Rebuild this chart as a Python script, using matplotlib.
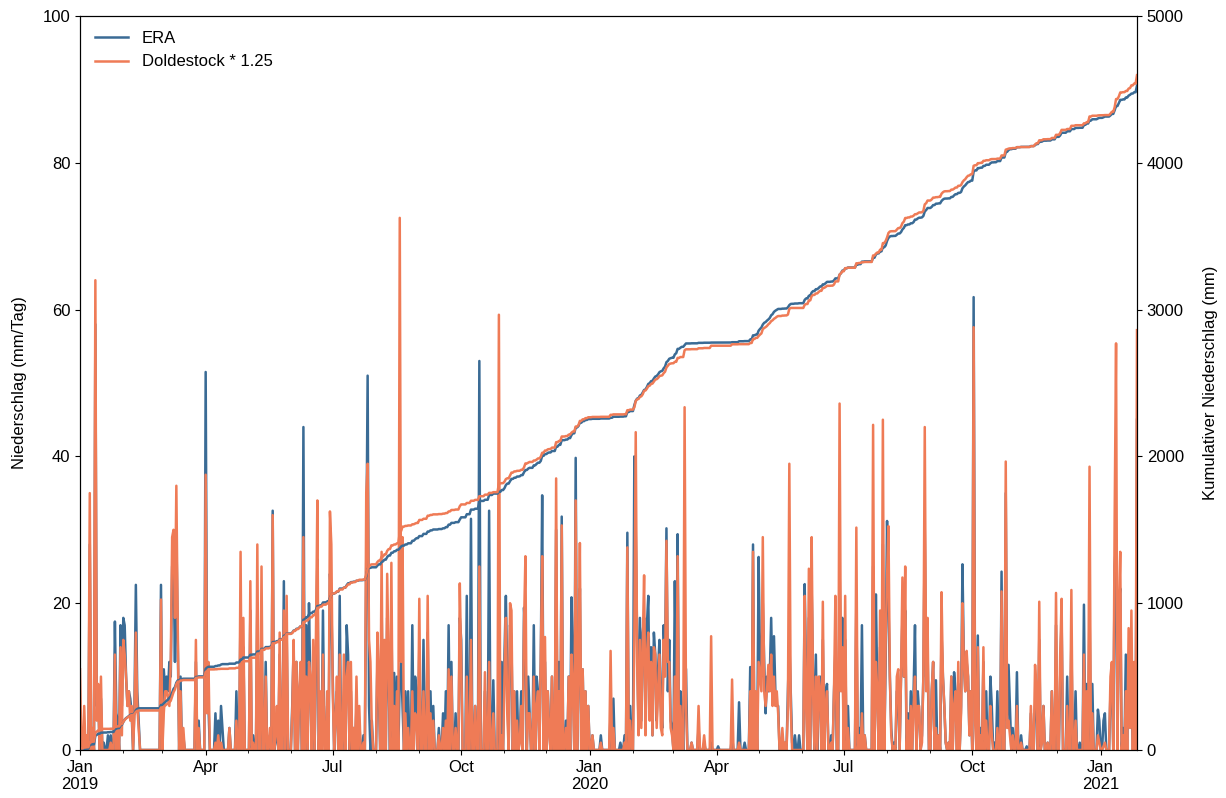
import numpy as np
import pandas as pd
import matplotlib
matplotlib.use('Agg')
import matplotlib.pyplot as plt
import matplotlib.dates as mdates

plt.rcParams['font.family'] = ['Liberation Sans', 'DejaVu Sans']
plt.rcParams['font.size'] = 12

START = '2019-01-01'

# daily precipitation (mm/Tag), one row per month
era_mm = [
    [5, 0, 0, 3, 0, 1, 0, 28, 0, 2, 0, 58, 6, 8, 0, 7, 0, 1, 0, 0, 2, 0, 2, 0, 0, 17.5, 5, 4, 0, 17, 6],  # 2019-01
    [18, 17, 10, 6, 8, 7, 5, 0, 6, 22.5, 8, 4, 0, 0, 0, 0, 0, 0, 0, 0, 0, 0, 0, 0, 0, 0, 0, 22.5],
    [0, 11, 8, 10, 8, 12, 10, 25, 26, 12, 30, 15, 0, 10, 0, 2, 0, 0, 0, 0, 0, 0, 0, 0, 12, 0, 4, 0, 0, 0, 0],
    [51.5, 8, 6, 0, 0, 0, 0, 5, 0, 4, 0, 6, 3, 0, 0, 0, 0, 3, 0, 0, 0, 0, 8, 0, 0, 20, 0, 14, 0, 0],
    [0, 0, 19, 0, 2, 0, 0, 20, 0, 0, 18, 0, 0, 12, 0, 0, 2, 0, 32.6, 0, 1, 5, 0, 13, 0, 0, 23, 0, 16, 0, 0],
    [0, 6, 14, 0, 12, 0, 8, 10, 0, 44, 0, 17, 0, 20, 8, 0, 10, 0, 12, 26, 0, 5, 0, 19, 1, 0, 6, 0, 24, 20],
    [10, 0, 5, 8, 0, 21, 0, 0, 6, 0, 17, 13, 0, 8, 0, 3, 0, 6, 0, 4, 0, 0, 2, 0, 25, 51, 6, 0, 4, 0, 0],
    [0, 12, 8, 0, 20, 0, 12, 0, 18, 10, 0, 19, 0, 10.5, 0, 10, 0, 10, 12, 6, 0, 8, 0, 8, 0, 0, 17, 0, 10, 8, 0],
    [14, 0, 0, 15, 0, 0, 16, 0, 8, 0, 6, 0, 0, 0, 3, 0, 0, 5, 0, 8, 0, 17, 0, 12, 0, 0, 5, 0, 0, 18],
    [15, 0, 0, 0, 21, 0, 0, 31.5, 0, 0, 6, 0, 0, 53, 0, 0, 0, 8, 0, 0, 32.6, 0, 0, 9.5, 0, 0, 0, 12, 0, 12, 0],
    [13, 21, 10, 0, 17, 15, 0, 8, 0, 8, 0, 2, 8, 0, 19.4, 15, 0, 10, 5, 0, 0, 17, 0, 10, 8, 0, 12, 34.7, 0, 12],
    [0, 8, 3, 0, 10, 0, 0, 30, 0, 12, 0, 31.8, 0, 0, 4, 0, 10, 0, 20.8, 12, 0, 39.8, 0, 10, 22, 0, 11, 0, 8, 0, 6],
    [0, 0, 2, 0, 0, 0, 0, 0, 2, 0, 0, 0, 0, 0, 0, 5, 0, 7, 0, 0, 0, 0, 1, 0, 0, 2, 0, 29.6, 0, 6, 0],  # 2020-01
    [0, 40, 30, 15, 3, 18, 4, 16, 18, 3, 17, 21, 5, 14, 2, 16, 13, 4, 11, 15, 6, 3, 17, 12, 30.2, 8, 15, 4, 3],
    [0, 23, 8, 29.4, 0, 8, 6, 0, 12, 11, 0, 0, 0, 1, 0, 0, 0, 0, 3, 0, 0, 0, 1, 0, 0, 0, 0, 1, 0, 0, 0],
    [0, 0.5, 0, 0, 0, 0, 0, 0, 0, 0, 0, 2, 0, 0, 0, 0, 6.5, 0, 0, 0, 1, 0, 0, 0, 11.3, 0, 28, 0, 5, 0],
    [26.3, 12, 10, 20, 12, 5, 10, 8, 10, 18, 8, 15.5, 8, 6, 6, 0, 0, 2, 0, 1, 0, 8, 15, 8, 1, 0, 2, 0, 0, 2, 0],
    [0, 0, 22.6, 10, 0, 18, 0, 22, 10, 0, 13, 0, 8, 10, 0, 15, 0, 8, 9, 0, 0, 2, 0, 8, 13.6, 0, 0, 25, 10, 18],
    [0, 15, 0, 6, 0, 0, 0, 0, 0, 20, 0, 3, 0, 17, 0, 2, 0, 0, 0, 0, 0, 25, 0, 21.2, 8, 0, 14, 0, 28, 0, 12],
    [31.2, 20, 10, 3, 0, 1, 0, 8, 8, 0, 10, 18, 10, 19, 0, 5, 0, 8, 0, 8, 17, 0, 8, 5, 0, 2, 10, 30, 10, 14, 0],
    [0, 8, 12, 0, 9.5, 0, 2, 0, 16, 10, 6, 1, 0, 1, 0, 10, 0, 10.6, 8, 0, 9, 0, 6, 25.3, 12, 8, 12, 10, 2, 8],
    [0, 61.7, 8, 0, 15.6, 0, 3, 0, 12, 0, 8, 0, 0, 10, 6, 0, 1, 0, 8, 0, 0, 24.3, 0, 0, 35, 4, 11.6, 6, 0, 3, 0],
    [0, 10.6, 0, 0, 2, 0, 0, 0, 0.5, 0, 0, 5, 0, 0, 6, 8, 0, 15, 0, 2, 6, 0, 0, 1, 0, 0, 8, 0, 0, 17],
    [0, 0, 10, 18, 0, 0, 0, 10, 0, 0, 15, 0, 0, 8, 0, 0, 1, 0, 0, 19.8, 0, 9, 0, 20, 0, 9, 0, 0, 0, 5.5, 4],
    [0, 0, 4, 5, 0, 0, 0, 8, 10, 0, 25, 28.6, 0, 20, 22, 0, 3, 0, 13, 0, 13, 5, 9, 0, 9, 0, 45],  # 2021-01 (bis 27.)
]

dold_mm = [
    [11, 0, 0, 6, 0, 2, 0, 35, 0, 3, 0, 64, 4, 9, 0, 10, 0, 0, 0, 0, 0, 0, 1, 0, 0, 13, 0, 3, 0, 14, 2],  # 2019-01
    [15, 13, 10, 6, 8, 4, 6, 0, 5, 16, 6, 3, 0, 0, 0, 0, 0, 0, 0, 0, 0, 0, 0, 0, 0, 0, 0, 20.5],
    [0, 5, 8, 8, 7, 6, 12, 29, 30, 18, 36, 17, 0, 8, 0, 3, 0, 0, 0, 0, 0, 0, 0, 0, 15, 0, 3, 0, 0, 0, 0],
    [37.5, 5, 12, 0, 0, 0, 0, 1, 0, 2, 0, 1, 0, 0, 0, 0, 0, 3, 0, 0, 0, 0, 4, 0, 0, 27, 0, 18, 0, 0],
    [0, 0, 23, 0, 1, 0, 0, 28, 0, 0, 25, 0, 0, 10, 0, 0, 3, 0, 32, 0, 2, 6, 0, 16, 0, 0, 19, 0, 21, 0, 0],
    [0, 5, 15, 0, 12, 0, 8, 12, 0, 29, 0, 10, 0, 12, 10, 0, 15, 0, 16, 34, 0, 8, 0, 13, 0, 0, 8, 0, 32.5, 28],
    [8, 0, 4, 10, 0, 13, 0, 0, 13, 0, 10, 12, 0, 12, 0, 3, 0, 10, 0, 6, 0, 0, 1, 0, 35, 39, 15, 12, 3, 0, 0],
    [0, 16, 10, 0, 27, 0, 15, 0, 24, 12, 0, 25.5, 0, 6, 0, 8, 0, 72.5, 12, 29, 0, 5, 0, 3, 0, 0, 8, 0, 5, 4, 0],
    [20.6, 0, 0, 8, 0, 0, 21, 0, 5, 0, 4, 0, 0, 0, 2, 0, 0, 3, 0, 4, 0, 11, 0, 10, 0, 0, 3, 0, 0, 22.7],
    [12, 0, 0, 0, 10, 0, 0, 15, 0, 0, 6, 0, 0, 25, 0, 0, 0, 10.6, 0, 0, 12, 0, 0, 5, 0, 0, 0, 59.3, 0, 2, 0],
    [10, 18, 5, 0, 20, 19, 0, 8, 0, 4, 0, 1, 6, 0, 17, 26.4, 0, 5, 5, 0, 0, 10, 0, 6, 8, 0, 12, 26.4, 0, 15.4],
    [0, 8, 2, 0, 10, 0, 0, 37, 0, 8, 0, 30.6, 0, 0, 3, 0, 10, 0, 13, 8, 0, 34, 0, 10, 28.2, 0, 11, 0, 8, 0, 6],
    [0, 0, 2, 0, 0, 0, 0, 0, 1, 0, 0, 0, 0, 0, 0, 13.5, 0, 3, 0, 0, 0, 0, 0, 0, 0, 1, 0, 27.6, 0, 4, 0],  # 2020-01
    [0, 15, 43.3, 12, 2, 15, 3, 14, 23.8, 2, 13, 16, 4, 12, 2, 14, 13, 3, 8, 13, 3, 2, 15, 10, 28.5, 12, 12, 3, 2],
    [0, 10, 0, 26.4, 0, 6, 0, 0, 46.7, 6, 0, 0, 0, 1, 0, 0, 0, 0, 6, 0, 0, 0, 2, 0, 0, 0, 0, 15.5, 0, 0, 0],
    [0, 0, 0, 0, 0, 0, 0, 0, 0, 0, 0, 9.6, 0, 0, 0, 0, 1, 0, 0, 0, 0, 0, 0, 0, 8, 0, 27, 0, 8, 0],
    [12, 10, 8, 29, 8, 6, 8, 11.6, 8, 13, 6, 10, 6, 8, 5, 0, 0, 3, 0, 1, 0, 6, 39, 6, 0, 0, 0, 0, 0, 0, 0],
    [0, 0, 21, 6, 0, 24.7, 0, 29, 8, 0, 10, 0, 10, 8, 0, 20.2, 0, 6, 8, 0, 0, 1, 0, 8, 21, 0, 0, 47.2, 8, 14],
    [0, 21, 0, 3, 0, 0, 0, 0, 0, 30.3, 0, 2, 0, 5, 0, 2, 0, 0, 0, 0, 0, 44.3, 0, 12, 8, 0, 19, 0, 45, 0, 15],
    [23.5, 30.5, 10, 2, 0, 0.5, 0, 10, 11, 0, 10, 23.5, 10, 25, 0, 4, 0, 6, 0, 6, 10, 0, 6, 6, 0, 1, 10, 44, 8, 18, 0],
    [0, 8, 12, 0, 3, 0, 2, 0, 21.5, 10, 6, 1, 0, 1, 0, 10, 0, 6, 8, 0, 12, 0, 5, 20, 12, 8, 13.5, 10, 2, 8],
    [0, 57.6, 4, 0, 14, 0, 2, 0, 14, 0, 4, 0, 0, 6, 2, 0, 0, 0, 3, 0, 0, 21.6, 0, 0, 39.3, 3, 4, 2, 0, 2, 0],
    [0, 6, 0, 0, 1, 0, 0, 0, 0, 0, 0, 6, 0, 0, 11.6, 8, 0, 20.2, 0, 1, 6, 0, 0, 1, 0, 0, 8, 0, 0, 21.4],
    [0, 0, 13, 20.6, 0, 0, 0, 6, 0, 0, 21.8, 0, 0, 4, 0, 0, 0, 0, 0, 13, 0, 8, 0, 38.6, 0, 5, 0, 0, 0, 2, 1],
    [0, 0, 0.5, 1, 0, 0, 0, 10, 12, 0, 31.7, 55.4, 0, 18, 27, 0, 2, 0, 8, 0, 16.6, 3, 19, 0, 12, 0, 57.2],  # 2021-01
]

COL_ERA = '#3a6b95'
COL_DOLD = '#ef7b56'


def flatten(months, name):
    out = []
    for i, m in enumerate(months):
        per = pd.Period(START, freq='M') + i
        n = per.days_in_month if i < len(months) - 1 else len(m)
        if len(m) != n:
            raise ValueError('%s %s: %d values, expected %d' % (name, per, len(m), n))
        out.extend(m)
    return np.array(out, dtype=float)


def fmt_date(x, pos):
    d = mdates.num2date(x)
    if d.month == 1:
        return '%s\n%d' % (d.strftime('%b'), d.year)
    return d.strftime('%b')


def main():
    era = flatten(era_mm, 'ERA')
    dold = flatten(dold_mm, 'Doldestock')
    days = pd.date_range(START, periods=len(era), freq='D')

    fig = plt.figure(figsize=(12.26, 7.98), dpi=100)
    ax = fig.add_axes([80 / 1226, 48 / 798, 1057 / 1226, 734 / 798])

    ax.plot(days, era, color=COL_ERA, lw=1.8, label='ERA')
    ax.plot(days, dold, color=COL_DOLD, lw=1.8, label='Doldestock * 1.25')
    ax.set_ylim(0, 100)
    ax.set_xlim(days[0], days[-1])
    ax.set_ylabel('Niederschlag (mm/Tag)', labelpad=11)
    ax.legend(loc='upper left', frameon=False)

    ax2 = ax.twinx()
    ax2.plot(days, np.cumsum(era), color=COL_ERA, lw=1.8)
    ax2.plot(days, np.cumsum(dold), color=COL_DOLD, lw=1.8)
    ax2.set_ylim(0, 5000)
    ax2.set_ylabel('Kumulativer Niederschlag (mm)', labelpad=14)

    ax.xaxis.set_major_locator(mdates.MonthLocator(bymonth=[1, 4, 7, 10]))
    ax.xaxis.set_major_formatter(plt.FuncFormatter(fmt_date))
    ax.xaxis.set_minor_locator(mdates.MonthLocator())

    fig.savefig('out.png', dpi=100)


if __name__ == "__main__":
    main()
